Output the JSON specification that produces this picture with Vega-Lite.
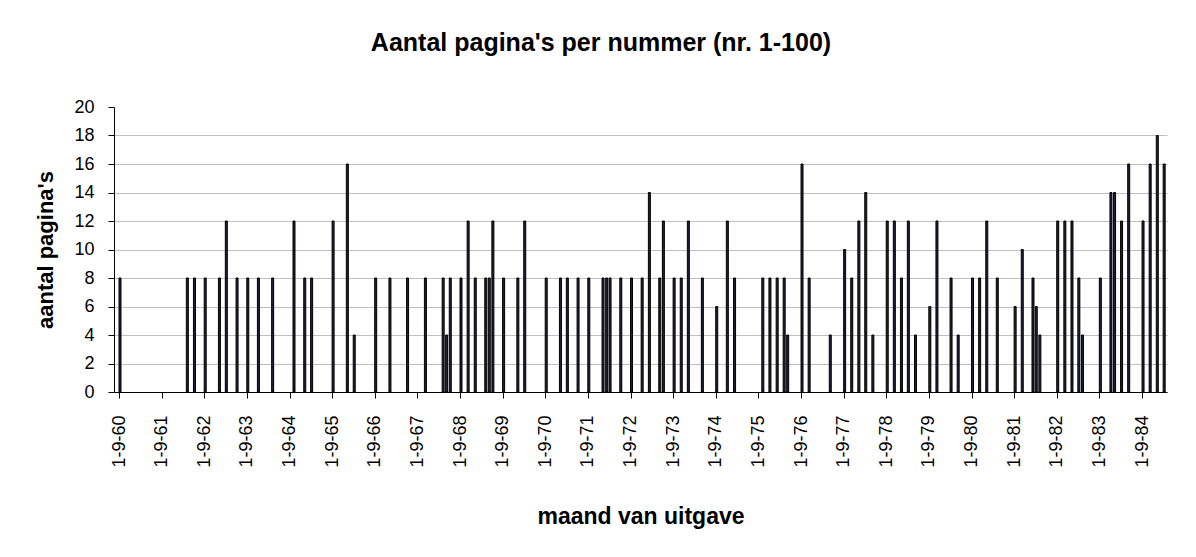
{
  "$schema": "https://vega.github.io/schema/vega-lite/v6.json",
  "autosize": "none",
  "width": 1053,
  "height": 285,
  "padding": {"left": 114, "top": 107, "right": 29, "bottom": 165},
  "background": "white",
  "config": {
    "font": "Liberation Sans",
    "view": {"stroke": null}
  },
  "title": {
    "text": "Aantal pagina's per nummer (nr. 1-100)",
    "font": "Liberation Sans",
    "fontSize": 25,
    "fontWeight": "bold",
    "color": "black",
    "anchor": "middle",
    "frame": "bounds",
    "offset": 42
  },
  "data": {
    "values": [
      {"datum": "1960-09-01", "paginas": 8},
      {"datum": "1962-04-01", "paginas": 8},
      {"datum": "1962-06-01", "paginas": 8},
      {"datum": "1962-09-01", "paginas": 8},
      {"datum": "1963-01-01", "paginas": 8},
      {"datum": "1963-03-01", "paginas": 12},
      {"datum": "1963-06-01", "paginas": 8},
      {"datum": "1963-09-01", "paginas": 8},
      {"datum": "1963-12-01", "paginas": 8},
      {"datum": "1964-04-01", "paginas": 8},
      {"datum": "1964-10-01", "paginas": 12},
      {"datum": "1965-01-01", "paginas": 8},
      {"datum": "1965-03-01", "paginas": 8},
      {"datum": "1965-09-01", "paginas": 12},
      {"datum": "1966-01-01", "paginas": 16},
      {"datum": "1966-03-01", "paginas": 4},
      {"datum": "1966-09-01", "paginas": 8},
      {"datum": "1967-01-01", "paginas": 8},
      {"datum": "1967-06-01", "paginas": 8},
      {"datum": "1967-11-01", "paginas": 8},
      {"datum": "1968-04-01", "paginas": 8},
      {"datum": "1968-05-01", "paginas": 4},
      {"datum": "1968-06-01", "paginas": 8},
      {"datum": "1968-09-01", "paginas": 8},
      {"datum": "1968-11-01", "paginas": 12},
      {"datum": "1969-01-01", "paginas": 8},
      {"datum": "1969-04-01", "paginas": 8},
      {"datum": "1969-05-01", "paginas": 8},
      {"datum": "1969-06-01", "paginas": 12},
      {"datum": "1969-09-01", "paginas": 8},
      {"datum": "1970-01-01", "paginas": 8},
      {"datum": "1970-03-01", "paginas": 12},
      {"datum": "1970-09-01", "paginas": 8},
      {"datum": "1971-01-01", "paginas": 8},
      {"datum": "1971-03-01", "paginas": 8},
      {"datum": "1971-06-01", "paginas": 8},
      {"datum": "1971-09-01", "paginas": 8},
      {"datum": "1972-01-01", "paginas": 8},
      {"datum": "1972-02-01", "paginas": 8},
      {"datum": "1972-03-01", "paginas": 8},
      {"datum": "1972-06-01", "paginas": 8},
      {"datum": "1972-09-01", "paginas": 8},
      {"datum": "1972-12-01", "paginas": 8},
      {"datum": "1973-02-01", "paginas": 14},
      {"datum": "1973-05-01", "paginas": 8},
      {"datum": "1973-06-01", "paginas": 12},
      {"datum": "1973-09-01", "paginas": 8},
      {"datum": "1973-11-01", "paginas": 8},
      {"datum": "1974-01-01", "paginas": 12},
      {"datum": "1974-05-01", "paginas": 8},
      {"datum": "1974-09-01", "paginas": 6},
      {"datum": "1974-12-01", "paginas": 12},
      {"datum": "1975-02-01", "paginas": 8},
      {"datum": "1975-10-01", "paginas": 8},
      {"datum": "1975-12-01", "paginas": 8},
      {"datum": "1976-02-01", "paginas": 8},
      {"datum": "1976-04-01", "paginas": 8},
      {"datum": "1976-05-01", "paginas": 4},
      {"datum": "1976-09-01", "paginas": 16},
      {"datum": "1976-11-01", "paginas": 8},
      {"datum": "1977-05-01", "paginas": 4},
      {"datum": "1977-09-01", "paginas": 10},
      {"datum": "1977-11-01", "paginas": 8},
      {"datum": "1978-01-01", "paginas": 12},
      {"datum": "1978-03-01", "paginas": 14},
      {"datum": "1978-05-01", "paginas": 4},
      {"datum": "1978-09-01", "paginas": 12},
      {"datum": "1978-11-01", "paginas": 12},
      {"datum": "1979-01-01", "paginas": 8},
      {"datum": "1979-03-01", "paginas": 12},
      {"datum": "1979-05-01", "paginas": 4},
      {"datum": "1979-09-01", "paginas": 6},
      {"datum": "1979-11-01", "paginas": 12},
      {"datum": "1980-03-01", "paginas": 8},
      {"datum": "1980-05-01", "paginas": 4},
      {"datum": "1980-09-01", "paginas": 8},
      {"datum": "1980-11-01", "paginas": 8},
      {"datum": "1981-01-01", "paginas": 12},
      {"datum": "1981-04-01", "paginas": 8},
      {"datum": "1981-09-01", "paginas": 6},
      {"datum": "1981-11-01", "paginas": 10},
      {"datum": "1982-02-01", "paginas": 8},
      {"datum": "1982-03-01", "paginas": 6},
      {"datum": "1982-04-01", "paginas": 4},
      {"datum": "1982-09-01", "paginas": 12},
      {"datum": "1982-11-01", "paginas": 12},
      {"datum": "1983-01-01", "paginas": 12},
      {"datum": "1983-03-01", "paginas": 8},
      {"datum": "1983-04-01", "paginas": 4},
      {"datum": "1983-09-01", "paginas": 8},
      {"datum": "1983-12-01", "paginas": 14},
      {"datum": "1984-01-01", "paginas": 14},
      {"datum": "1984-03-01", "paginas": 12},
      {"datum": "1984-05-01", "paginas": 16},
      {"datum": "1984-09-01", "paginas": 12},
      {"datum": "1984-11-01", "paginas": 16},
      {"datum": "1985-01-01", "paginas": 18},
      {"datum": "1985-03-01", "paginas": 16}
    ]
  },
  "mark": {
    "type": "bar",
    "width": 2,
    "fill": "#20203a",
    "stroke": "black",
    "strokeWidth": 1,
    "xOffset": 1
  },
  "encoding": {
    "x": {
      "field": "datum",
      "type": "temporal",
      "scale": {"type": "utc", "domain": [{"year": 1960, "month": 9, "date": 1, "utc": true}, {"year": 1985, "month": 2, "date": 19, "utc": true}]},
      "axis": {
        "title": "maand van uitgave",
        "titleFont": "Liberation Sans",
        "titleFontSize": 23,
        "titleFontWeight": "bold",
        "titleColor": "black",
        "titlePadding": 38,
        "values": [
          {"year": 1960, "month": 9, "date": 1, "utc": true},
          {"year": 1961, "month": 9, "date": 1, "utc": true},
          {"year": 1962, "month": 9, "date": 1, "utc": true},
          {"year": 1963, "month": 9, "date": 1, "utc": true},
          {"year": 1964, "month": 9, "date": 1, "utc": true},
          {"year": 1965, "month": 9, "date": 1, "utc": true},
          {"year": 1966, "month": 9, "date": 1, "utc": true},
          {"year": 1967, "month": 9, "date": 1, "utc": true},
          {"year": 1968, "month": 9, "date": 1, "utc": true},
          {"year": 1969, "month": 9, "date": 1, "utc": true},
          {"year": 1970, "month": 9, "date": 1, "utc": true},
          {"year": 1971, "month": 9, "date": 1, "utc": true},
          {"year": 1972, "month": 9, "date": 1, "utc": true},
          {"year": 1973, "month": 9, "date": 1, "utc": true},
          {"year": 1974, "month": 9, "date": 1, "utc": true},
          {"year": 1975, "month": 9, "date": 1, "utc": true},
          {"year": 1976, "month": 9, "date": 1, "utc": true},
          {"year": 1977, "month": 9, "date": 1, "utc": true},
          {"year": 1978, "month": 9, "date": 1, "utc": true},
          {"year": 1979, "month": 9, "date": 1, "utc": true},
          {"year": 1980, "month": 9, "date": 1, "utc": true},
          {"year": 1981, "month": 9, "date": 1, "utc": true},
          {"year": 1982, "month": 9, "date": 1, "utc": true},
          {"year": 1983, "month": 9, "date": 1, "utc": true},
          {"year": 1984, "month": 9, "date": 1, "utc": true}
        ],
        "labelExpr": "utcFormat(datum.value, '%-d-%-m-%y')",
        "labelAngle": -90,
        "labelAlign": "right",
        "labelBaseline": "middle",
        "labelFont": "Liberation Sans",
        "labelFontSize": 18,
        "labelColor": "black",
        "labelPadding": 17,
        "labelOverlap": false,
        "labelFlush": false,
        "tickSize": 6,
        "tickColor": "black",
        "domainColor": "black",
        "grid": false
      }
    },
    "y": {
      "field": "paginas",
      "type": "quantitative",
      "scale": {"domain": [0, 20], "nice": false},
      "axis": {
        "title": "aantal pagina's",
        "titleFont": "Liberation Sans",
        "titleFontSize": 22,
        "titleFontWeight": "bold",
        "titleColor": "black",
        "titlePadding": 16,
        "values": [0, 2, 4, 6, 8, 10, 12, 14, 16, 18, 20],
        "labelFont": "Liberation Sans",
        "labelFontSize": 18,
        "labelColor": "black",
        "labelPadding": 14,
        "tickSize": 6,
        "tickColor": "black",
        "domainColor": "black",
        "grid": true,
        "gridColor": "#c0c0c0",
        "gridOpacity": {"condition": {"test": "datum.value === 20 || datum.value === 0", "value": 0}, "value": 1}
      }
    }
  }
}
